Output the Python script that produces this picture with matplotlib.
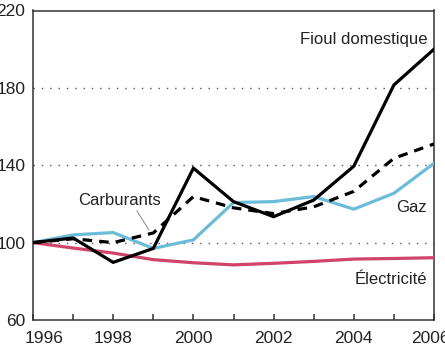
import matplotlib
matplotlib.use("Agg")
import matplotlib.pyplot as plt
import matplotlib.transforms as mtransforms

plt.rcParams['font.family'] = ['Liberation Sans', 'DejaVu Sans']

years = [1996, 1997, 1998, 1999, 2000, 2001, 2002, 2003, 2004, 2005, 2006]
fioul = [100, 102.4, 89.8, 97, 138.5, 121.2, 113.4, 122, 139.5, 181.5, 200]
carburants = [100, 102, 100, 105, 123.8, 118, 115, 118.5, 126.5, 143.6, 151]
gaz = [100, 104, 105.2, 97, 101.4, 120.7, 121.2, 123.8, 117.3, 125.5, 141]
electricite = [100, 97.2, 94.6, 91.2, 89.6, 88.5, 89.3, 90.3, 91.5, 91.8, 92.2]

y_ticks = [60, 100, 140, 180, 220]
x_major = [1996, 1998, 2000, 2002, 2004, 2006]
x_minor = [1997, 1999, 2001, 2003, 2005]

fig = plt.figure(figsize=(4.45, 3.46), dpi=100)
ax = fig.add_axes([33 / 445, 26 / 346, 401 / 445, 309.5 / 346])

# dotted reference lines
for v in [100, 140, 180]:
    ax.axhline(v, color='#555555', lw=1.0, ls=(0, (1, 5)), zorder=1)

ax.plot(years, electricite, color='#d0436a', lw=2.3, zorder=3, solid_joinstyle='miter')
ax.plot(years, gaz, color='#6bbcd8', lw=2.3, zorder=4, solid_joinstyle='miter')
ax.plot(years, carburants, color='black', lw=2.3, ls=(0, (3, 2.2)), zorder=5)
ax.plot(years, fioul, color='black', lw=2.3, zorder=6, solid_joinstyle='miter')

ax.set_xlim(1996, 2006)
ax.set_ylim(60, 220)

ax.set_yticks(y_ticks)
ax.set_xticks(x_major)
ax.set_xticks(x_minor, minor=True)
ax.tick_params(axis='y', length=0, pad=5.5, labelsize=12.5, colors='#222222')
ax.tick_params(axis='x', which='both', direction='in', length=4, width=1.1,
               color='#333333', pad=8, labelsize=12.5, labelcolor='#222222')

for s in ax.spines.values():
    s.set_color('#333333')
    s.set_linewidth(1.1)

# nudge the end labels so they stay inside the figure
labels = ax.get_xticklabels()
labels[0].set_transform(labels[0].get_transform() +
                        mtransforms.ScaledTranslation(11 / 100, 0, fig.dpi_scale_trans))
labels[-1].set_transform(labels[-1].get_transform() +
                         mtransforms.ScaledTranslation(-4 / 100, 0, fig.dpi_scale_trans))

ax.text(2005.85, 204.8, 'Fioul domestique', ha='right', va='center', fontsize=12, color='#222222')
ax.text(2005.83, 118.3, 'Gaz', ha='right', va='center', fontsize=12, color='#222222')
ax.text(1998.16, 122, 'Carburants', ha='center', va='center', fontsize=12, color='#222222')
ax.text(2005.83, 80.7, 'Électricité', ha='right', va='center', fontsize=12, color='#222222')
ax.plot([1998.59, 1998.89], [116.4, 106.6], color='#888888', lw=0.7, zorder=2)

fig.savefig('out.png', dpi=100)
